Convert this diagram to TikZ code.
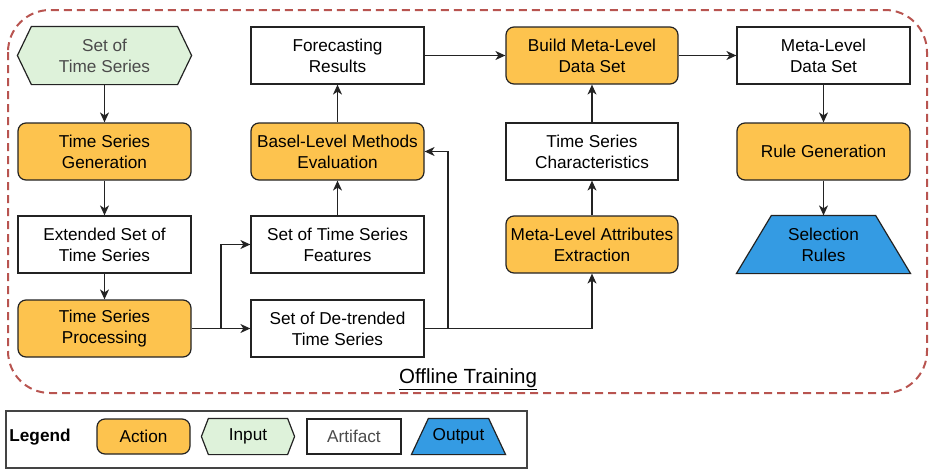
\documentclass[tikz,border=0pt]{standalone}
\usepackage{fontspec}
\setmainfont{Liberation Sans}
\usetikzlibrary{arrows.meta,backgrounds,calc}
\definecolor{actfill}{RGB}{253,195,78}
\definecolor{infill}{RGB}{222,242,218}
\definecolor{outfill}{RGB}{52,155,227}
\definecolor{dashred}{RGB}{184,84,80}
\definecolor{edge}{RGB}{35,35,35}
\definecolor{greytext}{RGB}{75,75,75}
\begin{document}
\begin{tikzpicture}[x=1pt,y=-1pt,
 box/.style={minimum width=173pt,minimum height=57pt,inner sep=0pt,align=center,
   font=\fontsize{17.2}{21}\selectfont,line width=1.2pt},
 artifact/.style={box,draw=edge,fill=white},
 action/.style={box,draw=edge,fill=actfill,rounded corners=8pt},
 plain/.style={box},
 shapeline/.style={line width=1.2pt,draw=edge},
 conn/.style={line width=1.2pt,draw=edge,-{Stealth[length=10pt,width=9pt,inset=3pt]}},
 wire/.style={line width=1.2pt,draw=edge}]
\useasboundingbox (0,0) rectangle (930,469);
\draw[dashred,line width=2pt,dash pattern=on 8pt off 5pt,rounded corners=42pt] (8,10) rectangle (927,393);

% column 1
\node[plain,text=greytext] (sts) at (104.5,55.5) {Set of\\Time Series};
\node[action] (gen) at (104.5,151.5) {Time Series\\Generation};
\node[artifact] (ext) at (104.5,244.5) {Extended Set of\\Time Series};
\node[action] (proc) at (104.5,328.5) {Time Series\\Processing};
% column 2
\node[artifact] (fr) at (337.5,55.5) {Forecasting\\Results};
\node[action] (bme) at (337.5,151.5) {Basel-Level Methods\\Evaluation};
\node[artifact] (feat) at (337.5,244.5) {Set of Time Series\\Features};
\node[artifact] (detr) at (337.5,328.5) {Set of De-trended\\Time Series};
% column 3
\node[action,minimum width=172pt] (build) at (592,55.5) {Build Meta-Level\\Data Set};
\node[artifact,minimum width=172pt] (tsc) at (592,151.5) {Time Series\\Characteristics};
\node[action,minimum width=172pt] (mae) at (592,244.5) {Meta-Level Attributes\\Extraction};
% column 4
\node[artifact] (mlds) at (823.5,55.5) {Meta-Level\\Data Set};
\node[action] (rule) at (823.5,151.5) {Rule Generation};
\node[plain] (sel) at (823.5,244.5) {Selection\\Rules};

\node[font=\fontsize{20.5}{24}\selectfont] (ot) at (468,379) {\underline{Offline Training}};

% legend
\node[draw=edge!85,line width=1.2pt,minimum width=521pt,minimum height=57pt,inner sep=0pt] (leg) at (266.5,439.5) {};
\node[font=\fontsize{17.2}{21}\selectfont\bfseries] (legt) at (40,437) {Legend};
\node[action,minimum width=93pt,minimum height=35pt] (la) at (143.5,436.5) {Action};
\node[plain,minimum width=92pt,minimum height=35pt] (li) at (248,436.5) {Input};
\node[artifact,minimum width=94pt,minimum height=35pt,text=greytext] (lart) at (354,436.5) {Artifact};
\node[plain,minimum width=93pt,minimum height=35pt] (lo) at (458.5,436.5) {Output};

\begin{scope}[on background layer]
\draw[shapeline,fill=infill] (sts.west) -- ($(sts.north west)+(14,0)$) -- ($(sts.north east)+(-14,0)$) -- (sts.east) -- ($(sts.south east)+(-14,0)$) -- ($(sts.south west)+(14,0)$) -- cycle;
\draw[shapeline,fill=outfill] (sel.south west) -- ($(sel.north west)+(35,0)$) -- ($(sel.north east)+(-35,0)$) -- (sel.south east) -- cycle;
\draw[shapeline,fill=infill] (li.west) -- ($(li.north west)+(7,0)$) -- ($(li.north east)+(-7,0)$) -- (li.east) -- ($(li.south east)+(-7,0)$) -- ($(li.south west)+(7,0)$) -- cycle;
\draw[shapeline,fill=outfill] (lo.south west) -- ($(lo.north west)+(17,0)$) -- ($(lo.north east)+(-17,0)$) -- (lo.south east) -- cycle;
\end{scope}

% connectors
\draw[conn] (sts) -- (gen);
\draw[conn] (gen) -- (ext);
\draw[conn] (ext) -- (proc);
\draw[conn] (proc) -- (detr);
\coordinate (br) at (221,328.5);
\draw[conn] (br) |- (feat);
\draw[conn] (feat) -- (bme);
\draw[conn] (bme) -- (fr);
\draw[conn] (fr) -- (build);
\draw[conn] (mae) -- (tsc);
\draw[conn] (tsc) -- (build);
\draw[conn] (build) -- (mlds);
\draw[conn] (mlds) -- (rule);
\draw[conn] (rule) -- (sel);
\coordinate (jn) at (448,328.5);
\draw[wire] (detr) -- (jn);
\draw[conn] (jn) |- (bme);
\draw[conn] (jn) -| (mae);
\end{tikzpicture}
\end{document}
